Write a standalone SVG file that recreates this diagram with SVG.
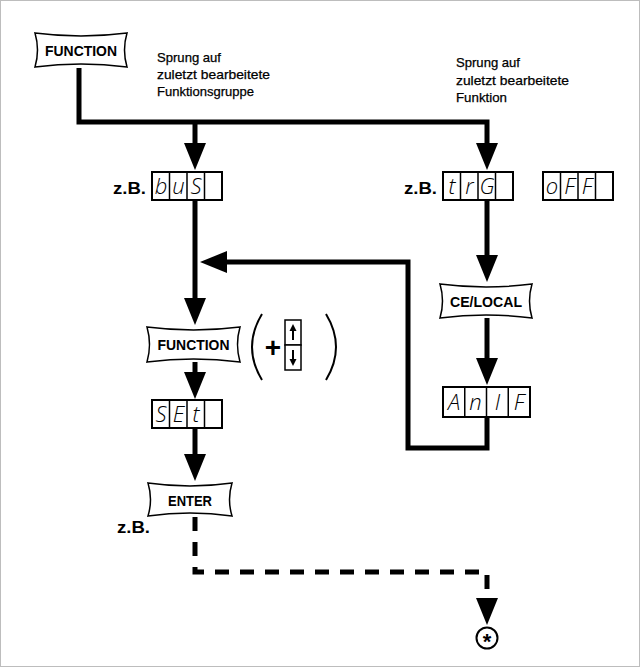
<svg xmlns="http://www.w3.org/2000/svg" width="640" height="667" viewBox="0 0 640 667">
<style>
.ln{stroke:#000;stroke-width:5;fill:none;stroke-linejoin:miter}
.dash{stroke-dasharray:14 11}
.btn{fill:#fff;stroke:#000;stroke-width:1.5}
.bt{font-family:"Liberation Sans",Arial,sans-serif;font-weight:bold;font-size:15px;text-anchor:middle}
.tx{font-family:"Liberation Sans",Arial,sans-serif;font-size:13px;stroke:#000;stroke-width:0.25}
.zb{font-family:"Liberation Sans",Arial,sans-serif;font-weight:bold;font-size:16px}
.dr{fill:#fff;stroke:#000;stroke-width:2}
.dv{stroke:#000;stroke-width:1.5}
.seg{font-family:"Open Sans","DejaVu Sans",sans-serif;font-weight:300;font-style:italic;font-size:22px;text-anchor:middle}
.thin{fill:none;stroke:#000;stroke-width:2}
</style>
<defs>
<marker id="ah" viewBox="0 0 27 22" refX="19" refY="11" markerWidth="27" markerHeight="22" orient="auto" markerUnits="userSpaceOnUse">
<path d="M0,0 L27,11 L0,22 z" fill="#000"/>
</marker>
</defs>
<rect x="0.5" y="0.5" width="639" height="666" fill="#fff" stroke="#bdbdbd"/>

<g id="connectors">
<path class="ln" d="M79,68 V122 H487 V162" marker-end="url(#ah)"/>
<path class="ln" d="M195,122 V162" marker-end="url(#ah)"/>
<path class="ln" d="M195,200 V317" marker-end="url(#ah)"/>
<path class="ln" d="M487,417 V448 H408 V262 H208" marker-end="url(#ah)"/>
<path class="ln" d="M487,200 V274" marker-end="url(#ah)"/>
<path class="ln" d="M487,318 V377" marker-end="url(#ah)"/>
<path class="ln" d="M195,362 V391" marker-end="url(#ah)"/>
<path class="ln" d="M195,428 V473" marker-end="url(#ah)"/>
<path class="ln dash" d="M195,517 V572 H487 V617" marker-end="url(#ah)"/>
</g>

<g id="btn-function-top">
<path class="btn" d="M35,33 Q81,39 127,33 Q122,50 127,67 Q81,61 35,67 Q40,50 35,33 Z"/>
<text class="bt" x="81" y="56" textLength="72" lengthAdjust="spacingAndGlyphs">FUNCTION</text>
</g>

<g id="text-left">
<text class="tx" x="157" y="62" textLength="64" lengthAdjust="spacingAndGlyphs">Sprung auf</text>
<text class="tx" x="157" y="79" textLength="113" lengthAdjust="spacingAndGlyphs">zuletzt bearbeitete</text>
<text class="tx" x="157" y="96" textLength="97" lengthAdjust="spacingAndGlyphs">Funktionsgruppe</text>
</g>
<g id="text-right">
<text class="tx" x="456" y="67" textLength="64" lengthAdjust="spacingAndGlyphs">Sprung auf</text>
<text class="tx" x="456" y="85" textLength="113" lengthAdjust="spacingAndGlyphs">zuletzt bearbeitete</text>
<text class="tx" x="456" y="102" textLength="51" lengthAdjust="spacingAndGlyphs">Funktion</text>
</g>

<g id="zb-left"><text class="zb" x="113" y="194" textLength="33" lengthAdjust="spacingAndGlyphs">z.B.</text></g>
<g id="zb-right"><text class="zb" x="404" y="194" textLength="33" lengthAdjust="spacingAndGlyphs">z.B.</text></g>
<g id="zb-bottom"><text class="zb" x="117" y="533" textLength="33" lengthAdjust="spacingAndGlyphs">z.B.</text></g>

<g id="disp-bus">
<rect class="dr" x="152" y="172" width="70" height="28"/>
<path class="dv" d="M169.5,172 V200 M187,172 V200 M204.5,172 V200"/>
<text class="seg" x="161" y="194">b</text><text class="seg" x="178.5" y="194">u</text><text class="seg" x="196" y="194">S</text>
</g>

<g id="disp-trg">
<rect class="dr" x="443" y="172" width="70" height="28"/>
<path class="dv" d="M460.5,172 V200 M478,172 V200 M495.5,172 V200"/>
<text class="seg" x="452" y="194">t</text><text class="seg" x="469.5" y="194">r</text><text class="seg" x="487" y="194">G</text>
</g>

<g id="disp-off">
<rect class="dr" x="543" y="172" width="70" height="28"/>
<path class="dv" d="M560.5,172 V200 M578,172 V200 M595.5,172 V200"/>
<text class="seg" x="552" y="194">o</text><text class="seg" x="569.5" y="194">F</text><text class="seg" x="587" y="194">F</text>
</g>

<g id="btn-celocal">
<path class="btn" d="M440,284 Q486,290 532,284 Q527,301 532,318 Q486,312 440,318 Q445,301 440,284 Z"/>
<text class="bt" x="486" y="307" textLength="72" lengthAdjust="spacingAndGlyphs">CE/LOCAL</text>
</g>

<g id="disp-anif">
<rect class="dr" x="443" y="387" width="87" height="30"/>
<path class="dv" d="M464.75,387 V417 M486.5,387 V417 M508.25,387 V417"/>
<text class="seg" x="454" y="410">A</text><text class="seg" x="475.5" y="410">n</text><text class="seg" x="497.5" y="410">I</text><text class="seg" x="519" y="410">F</text>
</g>

<g id="btn-function-mid">
<path class="btn" d="M147,327 Q193.5,333 240,327 Q235,344.5 240,362 Q193.5,356 147,362 Q152,344.5 147,327 Z"/>
<text class="bt" x="193.5" y="350" textLength="72" lengthAdjust="spacingAndGlyphs">FUNCTION</text>
</g>

<g id="plus-updown">
<path class="thin" d="M262,314 Q242,347 262,380"/>
<path class="thin" d="M326,314 Q346,347 326,380"/>
<text x="273" y="357" font-family="Liberation Sans,Arial,sans-serif" font-weight="bold" font-size="28" text-anchor="middle">+</text>
<rect x="285" y="320" width="16" height="25" fill="#fff" stroke="#000" stroke-width="1.5"/>
<rect x="285" y="345" width="16" height="25" fill="#fff" stroke="#000" stroke-width="1.5"/>
<path d="M293,340 V329" stroke="#000" stroke-width="2"/>
<path d="M289.5,331 L293,324 L296.5,331 Z" fill="#000"/>
<path d="M293,350 V361" stroke="#000" stroke-width="2"/>
<path d="M289.5,359 L293,366 L296.5,359 Z" fill="#000"/>
</g>

<g id="disp-set">
<rect class="dr" x="152" y="400" width="70" height="28"/>
<path class="dv" d="M169.5,400 V428 M187,400 V428 M204.5,400 V428"/>
<text class="seg" x="161" y="422">S</text><text class="seg" x="178.5" y="422">E</text><text class="seg" x="196" y="422">t</text>
</g>

<g id="btn-enter">
<path class="btn" d="M148,483 Q190,489 232,483 Q227,499.5 232,516 Q190,510 148,516 Q153,499.5 148,483 Z"/>
<text class="bt" x="190" y="506" textLength="44" lengthAdjust="spacingAndGlyphs">ENTER</text>
</g>

<g id="asterisk">
<circle cx="487" cy="638" r="10.5" fill="#fff" stroke="#000" stroke-width="2"/>
<text x="487" y="649" font-family="Liberation Sans,Arial,sans-serif" font-weight="bold" font-size="22" text-anchor="middle">*</text>
</g>
</svg>
